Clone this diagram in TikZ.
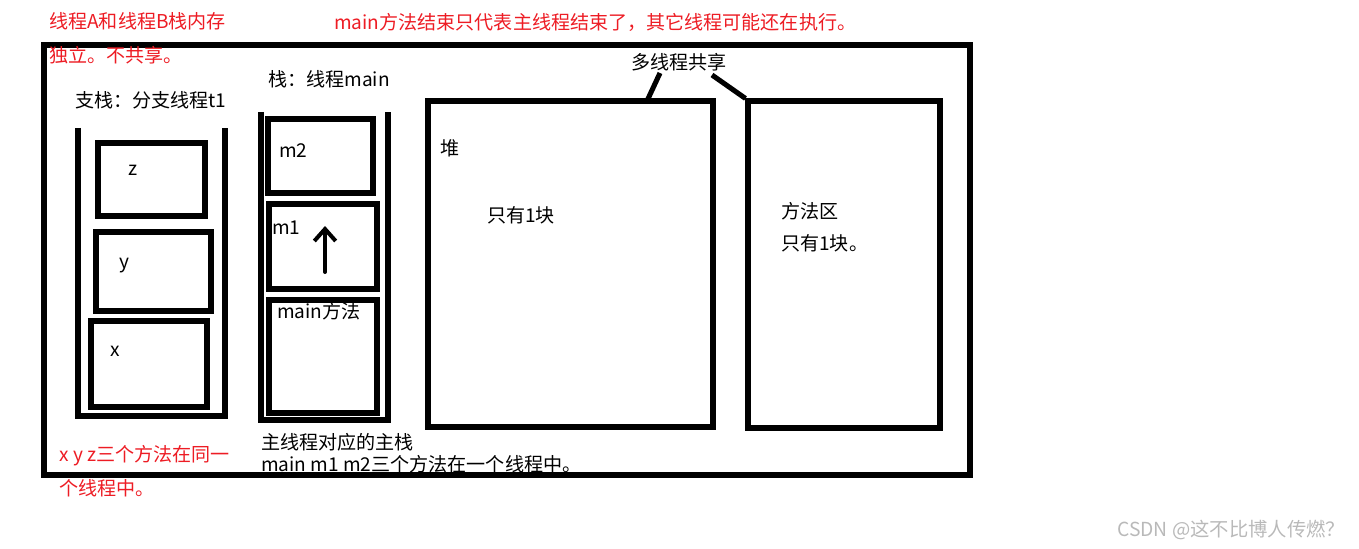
\documentclass[tikz,border=0pt]{standalone}
\usepackage{fontspec}
\setmainfont{Noto Sans CJK SC}
\usepackage{tikz}
\usetikzlibrary{arrows.meta}
\definecolor{paintred}{RGB}{237,28,36}
\definecolor{markgray}{RGB}{185,185,185}
\tikzstyle{frame} = [rectangle, draw=black, line width=3.8pt, inner sep=0pt]
\tikzstyle{call} = [frame]
\tikzstyle{area} = [frame]
\tikzstyle{label} = [inner sep=0pt, anchor=west, font=\fontsize{14.3}{17}\selectfont]
\tikzstyle{rednote} = [label, text=paintred]
\tikzstyle{wall} = [line width=3.8pt, line join=miter]
\tikzstyle{arrow} = [line width=3pt, line cap=round, -{Straight Barb[length=9pt,width=16pt,line width=3pt]}]
\tikzstyle{link} = [line width=3.8pt]

\begin{document}
\begin{tikzpicture}[x=0.75pt, y=-0.75pt]
            \useasboundingbox (0,0) rectangle (1359,549);
            % Outer frame
            \draw[line width=3.8pt] (44,45) rectangle (970,475);
            % Stacks
            \draw[wall] (78,128) |- (225,416) -- (225,128);
            \draw[wall] (261,112) |- (388,420) -- (388,112);
            % Frames
            \node[call, minimum width=80.25pt, minimum height=54.75pt] (zcall) at (151.5,179.5) {};
            \node[call, minimum width=86.25pt, minimum height=59.25pt] (ycall) at (153.5,271.5) {};
            \node[call, minimum width=87pt, minimum height=64.5pt] (xcall) at (149,364) {};
            \node[call, minimum width=78.75pt, minimum height=55.5pt] (m2call) at (320.5,156) {};
            \node[call, minimum width=81pt, minimum height=63.75pt] (m1call) at (323,246.5) {};
            \node[call, minimum width=81pt, minimum height=84.75pt] (maincall) at (323,356.5) {};
            \node[area, minimum width=213.75pt, minimum height=244.5pt] (heap) at (570.5,264) {};
            \node[area, minimum width=144pt, minimum height=245.25pt] (methodarea) at (844,264.5) {};
            % Labels
            \node[label, anchor=center] (zlabel) at (133,170) {z};
            \node[label, anchor=center] (ylabel) at (124,266) {y};
            \node[label, anchor=center] (xlabel) at (115,351) {x};
            \node[label] (m2label) at (279,151) {m2};
            \node[label] (m1label) at (272,228) {m1};
            \node[label] (mainlabel) at (277,311) {main方法};
            \node[label] (branch) at (75,100) {支栈：分支线程t1};
            \node[label] (mainstack) at (268,79) {栈：线程main};
            \node[label] (share) at (631,62) {多线程共享};
            \node[label] (heaplabel) at (440,148) {堆};
            \node[label] (heaponce) at (487,215) {只有1块};
            \node[label] (arealabel) at (781,211) {方法区};
            \node[label] (areaonce) at (781,243) {只有1块。};
            \node[label] (mainnote) at (261,442) {主线程对应的主栈};
            \node[label] (mainnote2) at (261,464) {main m1 m2三个方法在一个线程中。};
            \node[rednote] (ownstack) at (49,21) {线程A和线程B栈内存};
            \node[rednote] (ownstack2) at (49,55) {独立。不共享。};
            \node[rednote] (mainend) at (334,22) {main方法结束只代表主线程结束了，其它线程可能还在执行。};
            \node[rednote] (xyznote) at (59,456) {x y z三个方法在同一};
            \node[rednote] (xyznote2) at (59,488) {个线程中。};
            \node[label, text=markgray, font=\fontsize{14.5}{17}\selectfont] (mark) at (1117,530) {CSDN @这不比博人传燃？};
            % Arrows
            \coordinate (callfrom) at (325,272);
            \coordinate (callto) at (325,226);
            \draw[arrow] (callfrom) -- (callto);
            \coordinate (shareleft) at (660,73);
            \coordinate (shareright) at (712,75);
            \coordinate (heaptop) at (647,101);
            \draw[link] (shareleft) -- (heaptop);
            \draw[link] (shareright) -- (methodarea.north west);
        \end{tikzpicture}
\end{document}
